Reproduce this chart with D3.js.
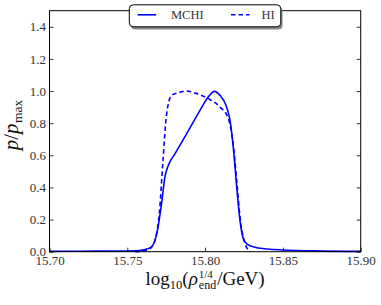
<html>
<head>
<meta charset="utf-8">
<script src="https://d3js.org/d3.v7.min.js"></script>
<style>
  body { margin: 0; background: #fff; }
  text { font-family: "Liberation Serif", "DejaVu Serif", serif; }
</style>
</head>
<body>
<div id="viz"></div>
<script>
// MCHI (solid)
const mchiX = [15.700, 15.720, 15.740, 15.755, 15.760, 15.763, 15.7657, 15.769, 15.772, 15.7742,
               15.7764, 15.7807, 15.7882, 15.7967, 15.802, 15.806, 15.8096, 15.8134, 15.816, 15.8181,
               15.8203, 15.8224, 15.8245, 15.8271, 15.8332, 15.840, 15.850, 15.870, 15.900];
const mchiY = [0.002, 0.003, 0.004, 0.006, 0.010, 0.018, 0.031, 0.114, 0.300, 0.466,
               0.538, 0.611, 0.735, 0.880, 0.963, 0.998, 0.973, 0.911, 0.818, 0.652,
               0.404, 0.197, 0.083, 0.046, 0.025, 0.017, 0.011, 0.005, 0.002];
// HI (dashed)
const hiX = [15.755, 15.762, 15.7657, 15.7678, 15.7706, 15.7728, 15.7753, 15.7785, 15.7828, 15.7882,
             15.7946, 15.802, 15.8096, 15.815, 15.8171, 15.8185, 15.8205, 15.8225, 15.8245, 15.8265,
             15.8278, 15.829];
const hiY = [0.000, 0.008, 0.030, 0.073, 0.240, 0.549, 0.860, 0.973, 0.990, 1.000,
             0.984, 0.953, 0.900, 0.828, 0.735, 0.630, 0.420, 0.210, 0.090, 0.030,
             0.010, 0.000];

const xTicks = [15.70, 15.75, 15.80, 15.85, 15.90];
const yTicks = [0.0, 0.2, 0.4, 0.6, 0.8, 1.0, 1.2, 1.4];
const seriesNames = ["MCHI", "HI"];

const W = 381, H = 305;
const mLeft = 49.5, mRight = 360.7, mTop = 10.7, mBottom = 251.7;
const serif = "'Liberation Serif', 'DejaVu Serif', serif";

const svg = d3.select("#viz").append("svg").attr("width", W).attr("height", H);

const x = d3.scaleLinear().domain([15.70, 15.90]).range([mLeft, mRight]);
const y = d3.scaleLinear().domain([0, 1.5]).range([mBottom, mTop]);

// curves
const line = d3.line().x(d => x(d[0])).y(d => y(d[1])).curve(d3.curveMonotoneX);
svg.append("path").datum(d3.zip(mchiX, mchiY))
  .attr("d", line).attr("fill", "none").attr("stroke", "#0000ff").attr("stroke-width", 1.6);
svg.append("path").datum(d3.zip(hiX, hiY))
  .attr("d", line).attr("fill", "none").attr("stroke", "#0000ff").attr("stroke-width", 1.6)
  .attr("stroke-dasharray", "4.5,3");

// axes (ticks inward)
const xAxis = svg.append("g").attr("transform", `translate(0,${mBottom})`)
  .call(d3.axisBottom(x).tickValues(xTicks).tickFormat(d3.format(".2f")).tickSizeInner(-4).tickSizeOuter(0).tickPadding(4));
const yAxis = svg.append("g").attr("transform", `translate(${mLeft},0)`)
  .call(d3.axisLeft(y).tickValues(yTicks).tickFormat(d3.format(".1f")).tickSizeInner(-4).tickSizeOuter(0).tickPadding(3.5));
const yAxisR = svg.append("g").attr("transform", `translate(${mRight},0)`)
  .call(d3.axisRight(y).tickValues(yTicks).tickFormat("").tickSizeInner(-4).tickSizeOuter(0));
[xAxis, yAxis, yAxisR].forEach(g => {
  g.attr("font-family", null);
  g.select(".domain").remove();
  g.selectAll(".tick line").attr("stroke", "#000").attr("stroke-width", 0.8);
  g.selectAll(".tick text").style("font-family", serif).attr("font-size", 13).attr("fill", "#333");
});

svg.append("rect").attr("x", mLeft).attr("y", mTop).attr("width", mRight - mLeft).attr("height", mBottom - mTop)
  .attr("fill", "none").attr("stroke", "#000").attr("stroke-width", 1);

// rich labels built from pieces, centred on the group origin
function richLabel(g, pieces) {
  let cur = 0;
  const placed = [];
  pieces.forEach(p => {
    if (p.stack) {
      let w = 0;
      p.stack.forEach(s => {
        const t = g.append("text").attr("x", cur).attr("y", s.dy).attr("font-size", s.size).text(s.t);
        placed.push(t);
        w = Math.max(w, t.node().getComputedTextLength());
      });
      cur += w + 1;
    } else {
      const t = g.append("text").attr("x", cur).attr("y", p.dy || 0).attr("font-size", p.size)
        .attr("font-style", p.italic ? "italic" : null).text(p.t);
      placed.push(t);
      cur += t.node().getComputedTextLength() + (p.gap || 0);
    }
  });
  placed.forEach(t => t.attr("x", +t.attr("x") - cur / 2).attr("fill", "#111"));
  return cur;
}

const xl = svg.append("g").attr("transform", `translate(${(mLeft + mRight) / 2},285)`);
richLabel(xl, [
  {t: "log", size: 19},
  {t: "10", size: 12.5, dy: 4},
  {t: "(", size: 19},
  {t: "ρ", size: 19, italic: true, gap: 1},
  {stack: [{t: "1/4", size: 11, dy: -7.5}, {t: "end", size: 12, dy: 4}]},
  {t: "/GeV)", size: 19}
]);

const yl = svg.append("g").attr("transform", `translate(18,125) rotate(-90)`);
richLabel(yl, [
  {t: "p", size: 21, italic: true},
  {t: "/", size: 21},
  {t: "p", size: 21, italic: true, gap: 0.5},
  {t: "max", size: 13.5, dy: 4}
]);

// legend
const lg = svg.append("g");
lg.append("rect").attr("x", 131).attr("y", 7).attr("width", 151.5).attr("height", 22.5).attr("rx", 4)
  .attr("fill", "#888");
lg.append("rect").attr("x", 129.3).attr("y", 4.8).attr("width", 151.5).attr("height", 22).attr("rx", 4)
  .attr("fill", "#fff").attr("stroke", "#000").attr("stroke-width", 1);
const legendItems = [
  {name: seriesNames[0], x0: 137.7, dash: null, tx: 171},
  {name: seriesNames[1], x0: 231, dash: "4.5,3", tx: 261.5}
];
legendItems.forEach(it => {
  lg.append("line").attr("x1", it.x0).attr("x2", it.x0 + 18.5).attr("y1", 14.8).attr("y2", 14.8)
    .attr("stroke", "#0000ff").attr("stroke-width", 1.6).attr("stroke-dasharray", it.dash);
  lg.append("text").attr("x", it.tx).attr("y", 19.3).attr("font-size", 12.5).attr("fill", "#333").text(it.name);
});
</script>
</body>
</html>
